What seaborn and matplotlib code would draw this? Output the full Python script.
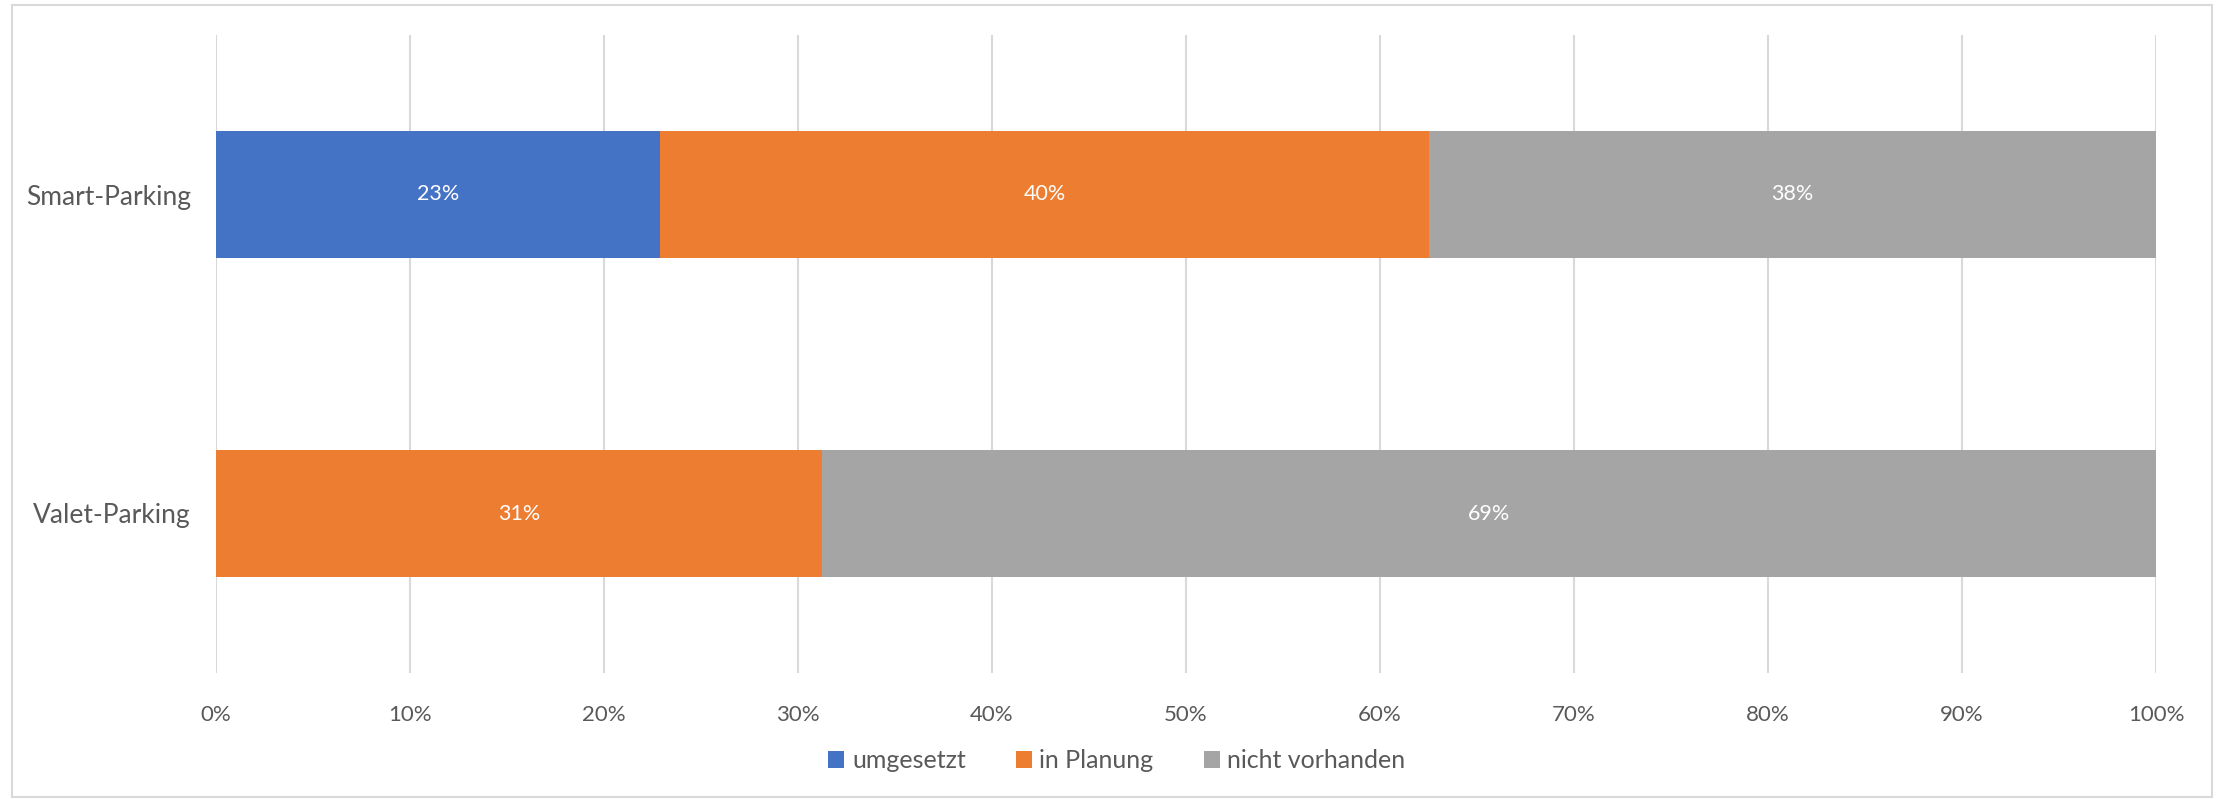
import numpy as np
import pandas as pd
import matplotlib
matplotlib.use("Agg")
import matplotlib.pyplot as plt
import seaborn as sns
from matplotlib.patches import Rectangle, Patch

categories = ["Smart-Parking", "Valet-Parking"]
series_names = ["umgesetzt", "in Planung", "nicht vorhanden"]
umgesetzt = [22.9, 0.0]
in_planung = [39.6, 31.25]
nicht_vorhanden = [37.5, 68.75]
colors = ["#4472C4", "#ED7D31", "#A5A5A5"]
xticks = [0, 10, 20, 30, 40, 50, 60, 70, 80, 90, 100]
xtick_labels = [f"{t}%" for t in xticks]

sns.set_theme(style="white")
plt.rcParams["font.family"] = ["Lato", "DejaVu Sans"]
text_color = "#595959"
grid_color = "#D9D9D9"

fig = plt.figure(figsize=(22.18, 7.99), dpi=100)
ax = fig.add_axes([216 / 2218, 1 - 673 / 799, 1940 / 2218, 638 / 799])

vals = [umgesetzt, in_planung, nicht_vorhanden]
cum = np.cumsum(np.array(vals), axis=0)

# draw from the total down so earlier series lie on top
for i in reversed(range(3)):
    df = pd.DataFrame({"cat": categories, "val": cum[i]})
    sns.barplot(data=df, x="val", y="cat", orient="h", color=colors[i],
                width=0.4, saturation=1, ax=ax, linewidth=0, errorbar=None)

# labels
for i in range(3):
    for j, cat in enumerate(categories):
        v = vals[i][j]
        if v <= 0:
            continue
        start = cum[i][j] - v
        ax.text(start + v / 2, j, f"{round(v):.0f}%", ha="center", va="center",
                color="white", fontsize=15.5)

ax.set_xlim(0, 100)
ax.set_ylim(1.5, -0.5)
ax.set_xticks(xticks)
ax.set_xticklabels(xtick_labels)
ax.set_xlabel("")
ax.set_ylabel("")
ax.grid(axis="x", color=grid_color, linewidth=1.5)
ax.grid(axis="y", visible=False)
ax.set_axisbelow(True)
for s in ax.spines.values():
    s.set_visible(False)
ax.tick_params(axis="x", length=0, pad=23, labelsize=16, labelcolor=text_color)
ax.tick_params(axis="y", length=0, pad=18, labelsize=19, labelcolor=text_color)

handles = [Patch(facecolor=c, edgecolor="none") for c in colors]
fig.legend(handles, series_names, loc="center", bbox_to_anchor=(0.5035, 1 - 761 / 799),
           ncol=3, frameon=False, fontsize=18, labelcolor=text_color,
           handlelength=0.65, handleheight=0.65, handletextpad=0.3, columnspacing=2.0)

fig.patches.append(Rectangle((12 / 2218, 1 - 797 / 799), 2200 / 2218, 792 / 799,
                             transform=fig.transFigure, fill=False,
                             edgecolor=grid_color, linewidth=1.5))

fig.savefig("out.png", dpi=100)
